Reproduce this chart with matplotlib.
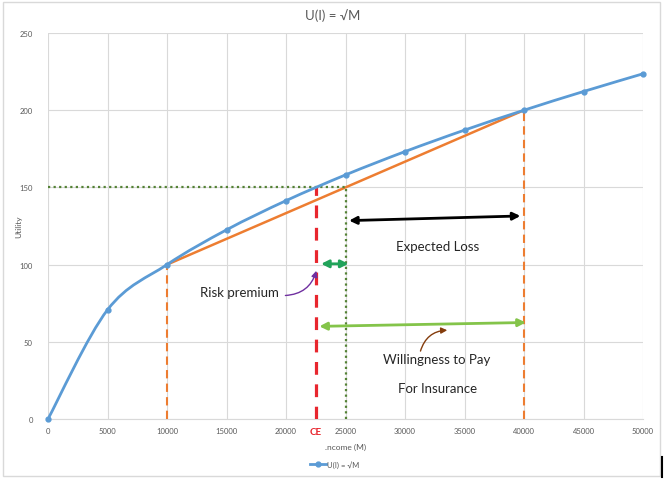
import numpy as np
import matplotlib.pyplot as plt
from matplotlib.path import Path
from matplotlib.patches import PathPatch, FancyArrowPatch, Rectangle
from matplotlib.lines import Line2D

# Utility of income: U = sqrt(M)
income = [0, 5000, 10000, 15000, 20000, 25000, 30000, 35000, 40000, 45000, 50000]
utility = [0, 70.7, 100, 122.5, 141.4, 158.1, 173.2, 187.1, 200, 212.1, 223.6]

# Gamble between low and high income, its expectation and certainty equivalent
gamble_income = [10000, 40000]
gamble_utility = [100, 200]
expected_income = 25000
expected_utility = 150
certainty_equiv = 22500

x_ticks = [0, 5000, 10000, 15000, 20000, 25000, 30000, 35000, 40000, 45000, 50000]
y_ticks = [0, 50, 100, 150, 200, 250]

BLUE = '#5b9bd5'
ORANGE = '#ed7d31'
GREY = '#595959'
FONT = ['Lato', 'DejaVu Sans']

plt.rcParams['font.family'] = FONT

fig = plt.figure(figsize=(6.65, 4.81), dpi=100)
ax = fig.add_axes([48 / 665, 1 - 420 / 481, 595 / 665, 386 / 481])
ax.set_xlim(0, 50000)
ax.set_ylim(0, 250)

ax.set_xticks(x_ticks)
ax.set_yticks(y_ticks)
ax.tick_params(axis='both', length=0, labelsize=5.5, labelcolor=GREY)
ax.tick_params(axis='y', pad=11)
ax.tick_params(axis='x', pad=6)
ax.grid(True, color='#d9d9d9', lw=0.8)
ax.set_axisbelow(True)
for s in ['top', 'right', 'left']:
    ax.spines[s].set_visible(False)
ax.spines['bottom'].set_color('#d9d9d9')

# Smoothed utility curve (Catmull-Rom style cubic Bezier through the points)
px = np.array(income, float)
py = np.array(utility, float)
n = len(px)
verts = [(px[0], py[0])]
codes = [Path.MOVETO]
for i in range(n - 1):
    p0 = np.array([px[max(i - 1, 0)], py[max(i - 1, 0)]])
    p1 = np.array([px[i], py[i]])
    p2 = np.array([px[i + 1], py[i + 1]])
    p3 = np.array([px[min(i + 2, n - 1)], py[min(i + 2, n - 1)]])
    c1 = p1 + (p2 - p0) / 6
    c2 = p2 - (p3 - p1) / 6
    verts += [tuple(c1), tuple(c2), tuple(p2)]
    codes += [Path.CURVE4] * 3
ax.add_patch(PathPatch(Path(verts, codes), fill=False, edgecolor=BLUE, lw=2, zorder=4))
ax.plot(income, utility, ls='none', marker='o', ms=3.5, color=BLUE, zorder=5, clip_on=False)

# Chord between the two outcomes
ax.plot(gamble_income, gamble_utility, color=ORANGE, lw=1.8, zorder=3)
for gx, gy in zip(gamble_income, gamble_utility):
    ax.plot([gx, gx], [0, gy], color=ORANGE, lw=1.5, ls=(0, (4, 2.5)), zorder=3)

# Expected utility / expected income guides
ax.plot([0, expected_income], [expected_utility, expected_utility],
        color='#548235', lw=1.6, ls=(0, (1, 1.5)), zorder=3)
ax.plot([expected_income, expected_income], [0, expected_utility],
        color='#548235', lw=1.6, ls=(0, (1, 1.5)), zorder=3)

# Certainty equivalent
ax.plot([certainty_equiv, certainty_equiv], [0, expected_utility],
        color='#e8262e', lw=2.3, ls=(0, (4, 3)), zorder=3)


def double_arrow(p1, p2, color):
    ax.add_patch(FancyArrowPatch(p1, p2, arrowstyle='<|-|>', mutation_scale=11,
                                 color=color, lw=2, zorder=6, shrinkA=0, shrinkB=0))


double_arrow((25300, 128.5), (39700, 131.5), 'black')
double_arrow((22950, 100.5), (25250, 100.5), '#21a35a')
double_arrow((22800, 60), (40150, 62.5), '#84c44a')

ax.add_patch(FancyArrowPatch((19950, 80), (22550, 96), arrowstyle='-|>',
                             mutation_scale=9, color='#7030a0', lw=1,
                             connectionstyle='arc3,rad=0.35', shrinkA=0, shrinkB=0, zorder=6))
ax.add_patch(FancyArrowPatch((31300, 44), (33550, 57.5), arrowstyle='-|>',
                             mutation_scale=9, color='#843c0c', lw=1,
                             connectionstyle='arc3,rad=-0.35', shrinkA=0, shrinkB=0, zorder=6))

txt = dict(fontsize=9.5, color='#262626', ha='center', va='center', zorder=7)
ax.text(32700, 112, 'Expected Loss', **txt)
ax.text(16100, 82.5, 'Risk premium', **txt)
ax.text(32700, 39, 'Willingness to Pay', **txt)
ax.text(32700, 20, 'For Insurance', **txt)

ax.text(certainty_equiv, -8, 'CE', color='#e8262e', fontsize=7, fontweight='bold',
        ha='center', va='center', clip_on=False)

ax.set_xlabel('.ncome (M)', fontsize=6, color=GREY, labelpad=6)
ax.set_ylabel('Utility', fontsize=6, color=GREY)
ax.yaxis.set_label_coords(-26 / 595, 0.5)
fig.text(0.5, 1 - 16 / 481, 'U(I) = √M', fontsize=9.5, color=GREY, ha='center', va='center')

handle = Line2D([], [], color=BLUE, lw=2, marker='o', ms=3.5)
fig.legend([handle], ['U(I) = √M'], loc='center', bbox_to_anchor=(335 / 665, 1 - 465 / 481),
           frameon=False, fontsize=5.5, labelcolor=GREY, handlelength=2, handletextpad=0.2)

fig.patches.append(Rectangle((3 / 665, 4 / 481), 657 / 665, 474 / 481, transform=fig.transFigure,
                             fill=False, edgecolor='#d9d9d9', lw=1))
fig.lines.append(Line2D([662 / 665, 662 / 665], [3 / 481, 23 / 481], transform=fig.transFigure,
                        color='black', lw=1.5))

fig.savefig('out.png', dpi=100)
